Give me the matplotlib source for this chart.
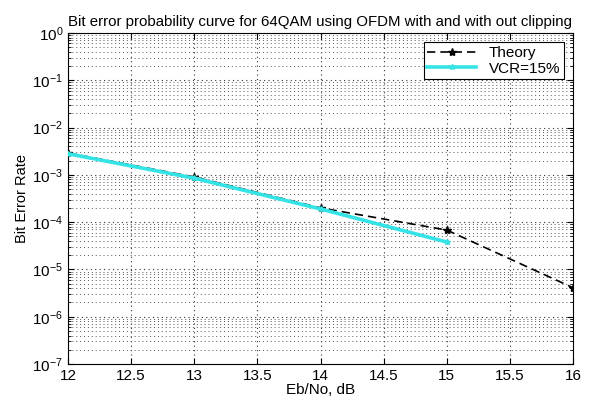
import numpy as np
import matplotlib.pyplot as plt
from matplotlib.ticker import LogLocator, NullFormatter

plt.rcParams['font.family'] = ['Liberation Sans', 'DejaVu Sans']

# ====================== DONNEES ======================
ebno_theory = [12, 13, 14, 15, 16]
ber_theory = [2.9e-3, 9.0e-4, 2.0e-4, 6.8e-5, 4.1e-6]

ebno_vcr = [12, 13, 14, 15]
ber_vcr = [2.8e-3, 8.5e-4, 1.9e-4, 3.8e-5]

x_ticks = [12, 12.5, 13, 13.5, 14, 14.5, 15, 15.5, 16]
x_labels = ['12', '12.5', '13', '13.5', '14', '14.5', '15', '15.5', '16']

# ====================== FIGURE ======================
fig = plt.figure(figsize=(5.89, 4.01), dpi=100)
ax = fig.add_axes([68 / 589, 1 - 364 / 401, (573 - 68) / 589, (364 - 33) / 401])

ax.semilogy(ebno_theory, ber_theory, color='black', linestyle=(0, (5, 3)), linewidth=1.2,
            marker='*', markersize=6, label='Theory', zorder=3)
ax.semilogy(ebno_vcr, ber_vcr, color='#33e3e6', linestyle='-', linewidth=2.6,
            marker='*', markersize=4, label='VCR=15%', zorder=4)

ax.set_xlim(12, 16)
ax.set_ylim(1e-7, 1)
ax.set_xticks(x_ticks)
ax.set_xticklabels(x_labels)
ax.set_yticks([10.0 ** k for k in range(-7, 1)])
ax.yaxis.set_minor_locator(LogLocator(base=10, subs=np.arange(2, 10), numticks=10))
ax.yaxis.set_minor_formatter(NullFormatter())

ax.grid(True, which='major', linestyle=(0, (1, 3)), color='#333333', linewidth=0.8)
ax.grid(True, which='minor', axis='y', linestyle=(0, (1, 3)), color='#555555', linewidth=0.7)

ax.tick_params(which='both', direction='in', top=True, right=True, labelsize=11)
ax.tick_params(which='major', length=4)
ax.tick_params(which='minor', length=2)

ax.set_xlabel('Eb/No, dB', fontsize=11, labelpad=0)
ax.set_ylabel('Bit Error Rate', fontsize=10.5, labelpad=2)
ax.set_title('Bit error probability curve for 64QAM using OFDM with and with out clipping',
             fontsize=10.8, pad=5)

leg = ax.legend(loc='upper right', fontsize=11, fancybox=False, framealpha=1,
                edgecolor='black', borderaxespad=0.6, handlelength=3.2,
                labelspacing=0.1, borderpad=0.25)
leg.get_frame().set_linewidth(0.8)

for s in ax.spines.values():
    s.set_linewidth(0.8)

fig.savefig('out.png', dpi=100)
